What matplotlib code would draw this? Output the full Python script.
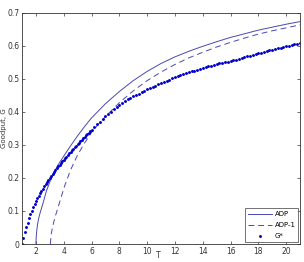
import numpy as np
import matplotlib
matplotlib.use("Agg")
import matplotlib.pyplot as plt

# G* sampled every 0.1 up to T=6, then every 0.2
t_gstar = np.round(np.concatenate([np.arange(1.0, 6.05, 0.1), np.arange(6.2, 21.05, 0.2)]), 2)
g_star = [
    0.000, 0.019, 0.036, 0.051, 0.065, 0.078, 0.090, 0.101, 0.112, 0.121,
    0.130, 0.138, 0.146, 0.154, 0.161, 0.168, 0.175, 0.182, 0.189, 0.195,
    0.201, 0.207, 0.213, 0.219, 0.224, 0.230, 0.235, 0.240, 0.245, 0.250,
    0.255, 0.260, 0.265, 0.270, 0.275, 0.280, 0.285, 0.289, 0.294, 0.298,
    0.303, 0.307, 0.312, 0.316, 0.321, 0.325, 0.329, 0.333, 0.337, 0.341,
    0.345,
    0.354, 0.363, 0.370, 0.379, 0.387, 0.394, 0.401, 0.408, 0.415, 0.421,
    0.427, 0.432, 0.438, 0.443, 0.447, 0.452, 0.456, 0.460, 0.465, 0.469,
    0.473, 0.476, 0.480, 0.484, 0.488, 0.491, 0.495, 0.498, 0.502, 0.505,
    0.508, 0.512, 0.515, 0.517, 0.520, 0.523, 0.525, 0.528, 0.530, 0.533,
    0.535, 0.538, 0.540, 0.542, 0.545, 0.547, 0.549, 0.551, 0.553, 0.555,
    0.557, 0.559, 0.562, 0.564, 0.567, 0.569, 0.571, 0.574, 0.576, 0.578,
    0.580, 0.582, 0.585, 0.587, 0.589, 0.591, 0.593, 0.595, 0.597, 0.599,
    0.601, 0.603, 0.605, 0.607, 0.609,
]

t_adp = [2.0, 2.02, 2.06, 2.12, 2.2, 2.3, 2.4, 2.5, 2.75, 3.0, 3.25, 3.5, 3.75, 4.0,
         4.5, 5.0, 5.5, 6.0, 7.0, 8.0, 9.0, 10.0, 11.0, 12.0, 13.0, 14.0, 15.0,
         16.0, 17.0, 18.0, 19.0, 20.0, 21.0]
adp = [0.0, 0.02, 0.04, 0.06, 0.078, 0.094, 0.108, 0.122, 0.16, 0.188, 0.212, 0.233,
       0.25, 0.266, 0.298, 0.328, 0.356, 0.382, 0.425, 0.462, 0.495, 0.523, 0.547,
       0.567, 0.584, 0.599, 0.613, 0.626, 0.637, 0.648, 0.657, 0.666, 0.674]

t_adp1 = [3.04, 3.1, 3.2, 3.35, 3.55, 3.8, 4.1, 4.5, 5.0, 5.5, 6.0, 6.5, 7.0, 8.0,
          9.0, 10.0, 11.0, 12.0, 13.0, 14.0, 15.0, 16.0, 17.0, 18.0, 19.0, 20.0, 21.0]
adp1 = [0.0, 0.03, 0.052, 0.078, 0.105, 0.14, 0.18, 0.225, 0.27, 0.306, 0.338, 0.363,
        0.386, 0.428, 0.464, 0.495, 0.521, 0.544, 0.564, 0.581, 0.597, 0.611, 0.624,
        0.636, 0.646, 0.655, 0.664]

line_col = "#4848b4"
dot_col = "#0000c8"

fig = plt.figure(figsize=(3.04, 2.62), dpi=100)
ax = fig.add_axes([0.0724, 0.0687, 0.9146, 0.8817])

ax.plot(t_adp, adp, color=line_col, lw=0.7, label="ADP")
ax.plot(t_adp1, adp1, color=line_col, lw=0.7, dashes=(6, 4), label="ADP-1")
ax.plot(t_gstar, g_star, ls="none", marker="o", ms=2.1, mew=0, color=dot_col, label="G*")

ax.set_xlim(1, 21)
ax.set_ylim(0, 0.7)
ax.set_xticks(range(2, 21, 2))
ax.set_yticks(np.arange(0, 0.71, 0.1))
ax.set_yticklabels(["0", "0.1", "0.2", "0.3", "0.4", "0.5", "0.6", "0.7"])
ax.tick_params(direction="in", length=2.5, width=0.5, labelsize=5.5, pad=2,
               top=True, right=True, colors="#333333")
for s in ax.spines.values():
    s.set_linewidth(0.6)
    s.set_color("#333333")

ax.set_xlabel("T", fontsize=5.5, color="#333333", va="center")
ax.xaxis.set_label_coords(0.49, -0.048)
ax.set_ylabel("Goodput, G", fontsize=5, color="#333333", va="center")
ax.yaxis.set_label_coords(-0.063, 0.5)

leg = ax.legend(loc="lower right", fontsize=5, frameon=True, fancybox=False,
                borderaxespad=0.25, handlelength=3.4, handletextpad=0.4,
                labelspacing=0.75, borderpad=0.4)
leg.get_frame().set_edgecolor("#333333")
leg.get_frame().set_linewidth(0.6)

fig.savefig("out.png", dpi=100)
